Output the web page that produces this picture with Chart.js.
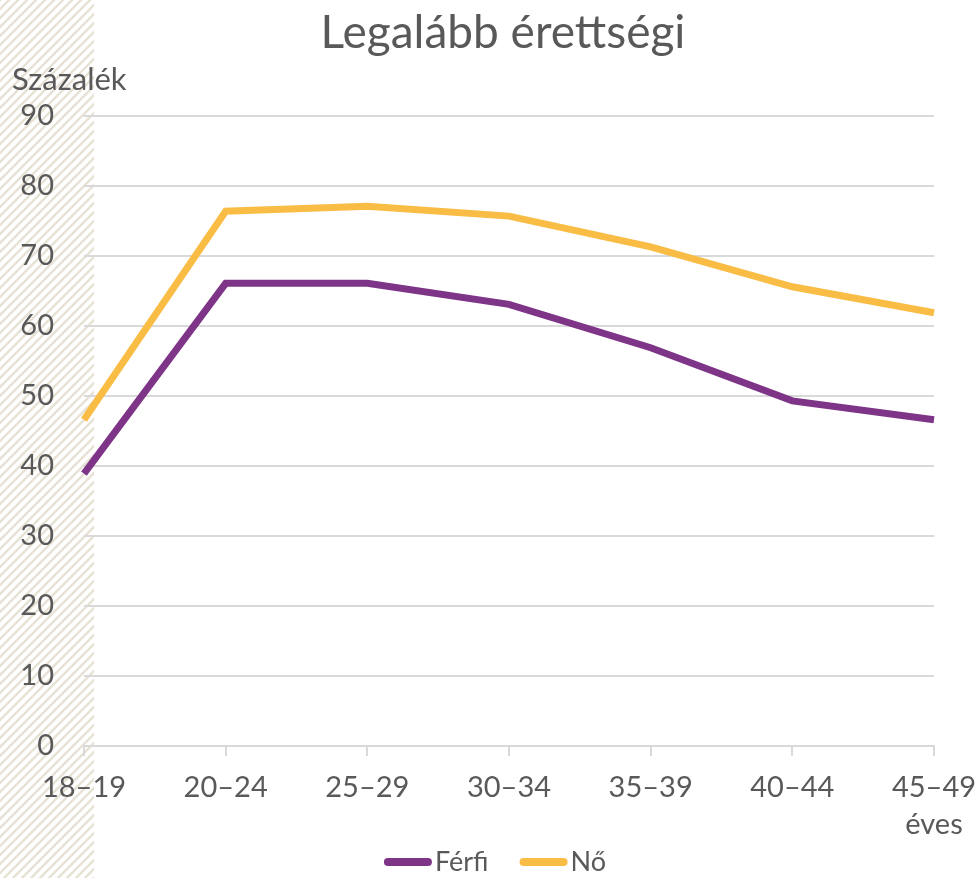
<!DOCTYPE html>
<html lang="hu">
<head>
<meta charset="utf-8">
<title>Legalább érettségi</title>
<script src="https://cdn.jsdelivr.net/npm/chart.js@4/dist/chart.umd.min.js"></script>
<style>
  html, body { margin: 0; padding: 0; background: #fff; }
  #wrap { width: 976px; height: 878px; }
</style>
</head>
<body>
<div id="wrap"><canvas id="chart" width="976" height="878"></canvas></div>
<script>
// Data
const ageGroups = ["18–19", "20–24", "25–29", "30–34", "35–39", "40–44", ["45–49", "éves"]];
const ferfi = [38.9, 66.1, 66.1, 63.1, 56.9, 49.3, 46.6];
const no = [46.6, 76.4, 77.1, 75.7, 71.3, 65.6, 61.9];
const yTicks = [0, 10, 20, 30, 40, 50, 60, 70, 80, 90];

const FONT = "Lato, 'Open Sans', sans-serif";
const TEXT = "#595959";

// Hatched strip on the left, title, axis caption and the legend row
const decor = {
  id: "decor",
  beforeDraw(chart) {
    const ctx = chart.ctx;
    const p = document.createElement("canvas");
    p.width = 9; p.height = 9;
    const pc = p.getContext("2d");
    pc.strokeStyle = "#e7e2d4";
    pc.lineWidth = 2.4;
    pc.beginPath();
    pc.moveTo(-2, 11); pc.lineTo(11, -2);
    pc.moveTo(-2, 2); pc.lineTo(2, -2);
    pc.moveTo(7, 11); pc.lineTo(11, 7);
    pc.stroke();
    ctx.save();
    ctx.fillStyle = ctx.createPattern(p, "repeat");
    ctx.fillRect(0, 0, 94, chart.height);
    ctx.restore();
  },
  afterDraw(chart) {
    const ctx = chart.ctx;
    ctx.save();
    ctx.fillStyle = TEXT;
    ctx.textBaseline = "middle";
    ctx.textAlign = "center";
    ctx.font = "46px " + FONT;
    ctx.fillText("Legalább érettségi", 503, 33);
    ctx.textAlign = "left";
    ctx.font = "31px " + FONT;
    ctx.fillText("Százalék", 12, 80);

    // legend
    ctx.font = "27px " + FONT;
    const sets = chart.data.datasets;
    const sw = 48, gap = 3, between = 31, cy = 862;
    const widths = sets.map(d => sw + gap + ctx.measureText(d.label).width);
    const total = widths.reduce((a, b) => a + b, 0) + between * (sets.length - 1);
    let x = 495 - total / 2;
    sets.forEach((d, i) => {
      ctx.strokeStyle = d.borderColor;
      ctx.lineWidth = 8;
      ctx.lineCap = "round";
      ctx.beginPath();
      ctx.moveTo(x + 4, cy);
      ctx.lineTo(x + sw - 4, cy);
      ctx.stroke();
      ctx.fillStyle = TEXT;
      ctx.fillText(d.label, x + sw + gap, cy);
      x += widths[i] + between;
    });
    ctx.restore();
  }
};

new Chart(document.getElementById("chart"), {
  type: "line",
  data: {
    labels: ageGroups,
    datasets: [
      { label: "Férfi", data: ferfi, borderColor: "#7e3588", backgroundColor: "#7e3588",
        borderWidth: 7, pointRadius: 0, tension: 0, borderCapStyle: "butt" },
      { label: "Nő", data: no, borderColor: "#f9bd45", backgroundColor: "#f9bd45",
        borderWidth: 7, pointRadius: 0, tension: 0, borderCapStyle: "butt" }
    ]
  },
  options: {
    responsive: false,
    animation: false,
    devicePixelRatio: 1,
    layout: { padding: { top: 116, right: 42, left: 0, bottom: 42 } },
    plugins: {
      title: { display: false },
      tooltip: { enabled: false },
      legend: { display: false }
    },
    scales: {
      x: {
        offset: false,
        grid: { display: true, drawOnChartArea: false, drawTicks: true, tickLength: 10, color: "#d9d9d9", lineWidth: 2 },
        border: { color: "#d9d9d9", width: 2 },
        ticks: { color: TEXT, font: { family: FONT, size: 29, lineHeight: 1.25 }, maxRotation: 0, autoSkip: false, padding: 14 },
        afterFit(s) { s.height = 90; s.paddingLeft = 0; s.paddingRight = 0; }
      },
      y: {
        min: 0, max: 90,
        afterBuildTicks(s) { s.ticks = yTicks.map(v => ({ value: v })); },
        grid: { color: "#d9d9d9", lineWidth: 2, drawTicks: false },
        border: { display: false },
        ticks: { color: TEXT, font: { family: FONT, size: 29 }, padding: 30 },
        afterFit(s) { s.width = 84; s.paddingTop = 0; s.paddingBottom = 0; }
      }
    }
  },
  plugins: [decor]
});
</script>
</body>
</html>
